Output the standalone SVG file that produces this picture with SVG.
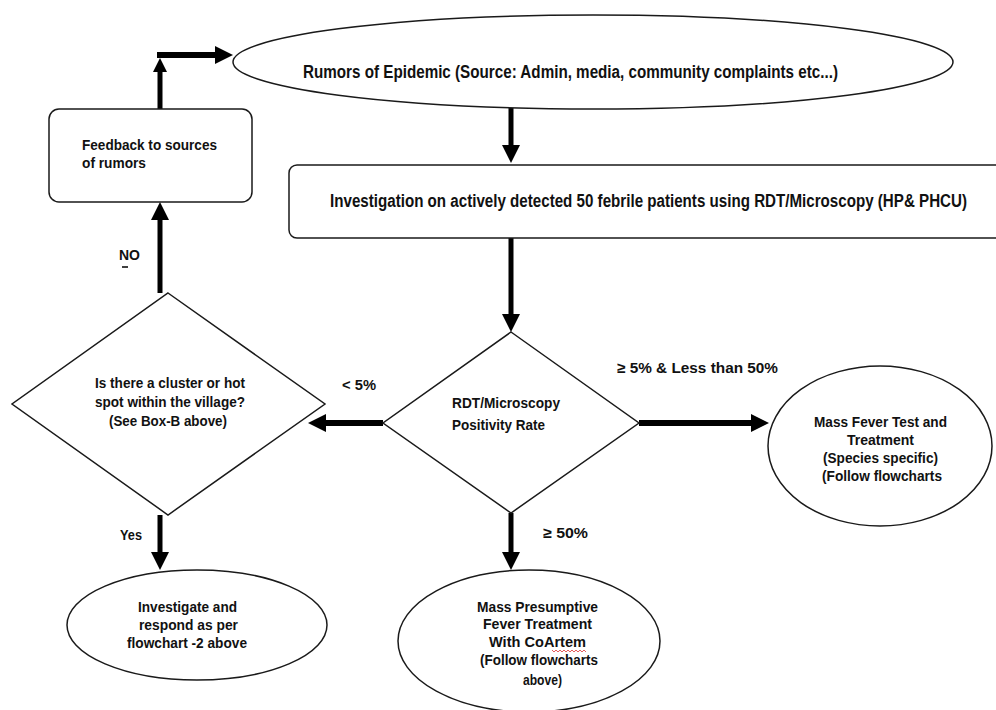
<svg xmlns="http://www.w3.org/2000/svg" width="996" height="710" viewBox="0 0 996 710">
<style>
.shape{fill:#fff;stroke:#1a1a1a;stroke-width:1.5}
.t{font-family:"Liberation Sans Narrow","Liberation Sans",Arial,sans-serif;font-weight:bold;fill:#111;font-size:15px}
.tl{font-size:18px}
.c{fill:none;stroke:#000;stroke-width:5}
.h{stroke-width:6}
</style>
<defs>
<marker id="ah" viewBox="0 0 18 18" refX="8" refY="9" markerWidth="18" markerHeight="18" markerUnits="userSpaceOnUse" orient="auto"><path d="M0,0 L18,9 L0,18 z" fill="#000"/></marker>
<marker id="ahs" viewBox="0 0 14 14" refX="6" refY="7" markerWidth="14" markerHeight="14" markerUnits="userSpaceOnUse" orient="auto"><path d="M0,0 L14,7 L0,14 z" fill="#000"/></marker>
</defs>
<rect width="996" height="710" fill="#fff"/>

<g id="connectors">
<path class="c" d="M160,109 L160,66" stroke-width="4" marker-end="url(#ahs)"/>
<path class="c h" d="M157,55 L223,55" marker-end="url(#ah)"/>
<path class="c" d="M511,108 L511,153" marker-end="url(#ah)"/>
<path class="c" d="M511,238 L511,322" marker-end="url(#ah)"/>
<path class="c h" d="M639,423 L759,423" marker-end="url(#ah)"/>
<path class="c h" d="M383,423 L318,423" marker-end="url(#ah)"/>
<path class="c" d="M511,513 L511,560" marker-end="url(#ah)"/>
<path class="c" d="M160,515 L160,560" stroke-width="4" marker-end="url(#ah)"/>
<path class="c" d="M160,293 L160,212" stroke-width="4" marker-end="url(#ah)"/>
<text class="t" x="119" y="260" textLength="21" lengthAdjust="spacingAndGlyphs">NO</text>
<line x1="122" y1="267" x2="128" y2="267" stroke="#000" stroke-width="1.5"/>
<text class="t" x="120" y="540" textLength="22" lengthAdjust="spacingAndGlyphs">Yes</text>
<text class="t" x="342" y="390" textLength="34" lengthAdjust="spacingAndGlyphs">&lt; 5%</text>
<text class="t" x="617" y="373" textLength="161" lengthAdjust="spacingAndGlyphs">≥ 5% &amp; Less than 50%</text>
<text class="t" x="543" y="538" textLength="45" lengthAdjust="spacingAndGlyphs">≥ 50%</text>
</g>

<g id="rumors">
<ellipse class="shape" cx="593" cy="62" rx="360" ry="47"/>
<text class="t tl" x="303" y="78" textLength="535" lengthAdjust="spacingAndGlyphs">Rumors of Epidemic (Source: Admin, media, community complaints etc...)</text>
</g>

<g id="feedback">
<rect class="shape" x="49" y="109" width="203" height="93" rx="10"/>
<text class="t" x="82" y="150" textLength="135" lengthAdjust="spacingAndGlyphs">Feedback to sources</text>
<text class="t" x="82" y="168" textLength="64" lengthAdjust="spacingAndGlyphs">of rumors</text>
</g>

<g id="investigation">
<path class="shape" d="M997,165 H297 A8,8 0 0 0 289,173 V230 A8,8 0 0 0 297,238 H997"/>
<text class="t tl" x="330" y="207" textLength="637" lengthAdjust="spacingAndGlyphs">Investigation on actively detected 50 febrile patients using RDT/Microscopy (HP&amp; PHCU)</text>
</g>

<g id="positivity">
<polygon class="shape" points="511,332 639,423 511,513 383,423"/>
<text class="t" x="452" y="408" textLength="108" lengthAdjust="spacingAndGlyphs">RDT/Microscopy</text>
<text class="t" x="452" y="430" textLength="93" lengthAdjust="spacingAndGlyphs">Positivity Rate</text>
</g>

<g id="cluster">
<polygon class="shape" points="168,293 325,404 168,515 12,404"/>
<text class="t" x="95" y="388" textLength="150" lengthAdjust="spacingAndGlyphs">Is there a cluster or hot</text>
<text class="t" x="95" y="407" textLength="150" lengthAdjust="spacingAndGlyphs">spot within the village?</text>
<text class="t" x="109" y="426" textLength="118" lengthAdjust="spacingAndGlyphs">(See Box-B above)</text>
</g>

<g id="mass-test">
<ellipse class="shape" cx="880" cy="446" rx="112" ry="80"/>
<text class="t" x="814" y="427" textLength="133" lengthAdjust="spacingAndGlyphs">Mass Fever Test and</text>
<text class="t" x="847" y="445" textLength="67" lengthAdjust="spacingAndGlyphs">Treatment</text>
<text class="t" x="823" y="463" textLength="115" lengthAdjust="spacingAndGlyphs">(Species specific)</text>
<text class="t" x="822" y="481" textLength="120" lengthAdjust="spacingAndGlyphs">(Follow flowcharts</text>
</g>

<g id="investigate">
<ellipse class="shape" cx="197" cy="625" rx="130" ry="55"/>
<text class="t" x="138" y="612" textLength="99" lengthAdjust="spacingAndGlyphs">Investigate and</text>
<text class="t" x="139" y="630" textLength="99" lengthAdjust="spacingAndGlyphs">respond as per</text>
<text class="t" x="127" y="648" textLength="120" lengthAdjust="spacingAndGlyphs">flowchart -2 above</text>
</g>

<g id="mass-presumptive">
<ellipse class="shape" cx="529" cy="641" rx="131" ry="71"/>
<text class="t" x="477" y="612" textLength="121" lengthAdjust="spacingAndGlyphs">Mass Presumptive</text>
<text class="t" x="483" y="629" textLength="109" lengthAdjust="spacingAndGlyphs">Fever Treatment</text>
<text class="t" x="489" y="647" textLength="97" lengthAdjust="spacingAndGlyphs">With CoArtem</text>
<path d="M552,650 l2,2 l2,-2 l2,2 l2,-2 l2,2 l2,-2 l2,2 l2,-2 l2,2 l2,-2 l2,2 l2,-2 l2,2 l2,-2 l2,2 l2,-2 l2,2" fill="none" stroke="#d33" stroke-width="0.8"/>
<text class="t" x="480" y="665" textLength="118" lengthAdjust="spacingAndGlyphs">(Follow flowcharts</text>
<text class="t" x="523" y="685" textLength="39" lengthAdjust="spacingAndGlyphs">above)</text>
</g>
</svg>
